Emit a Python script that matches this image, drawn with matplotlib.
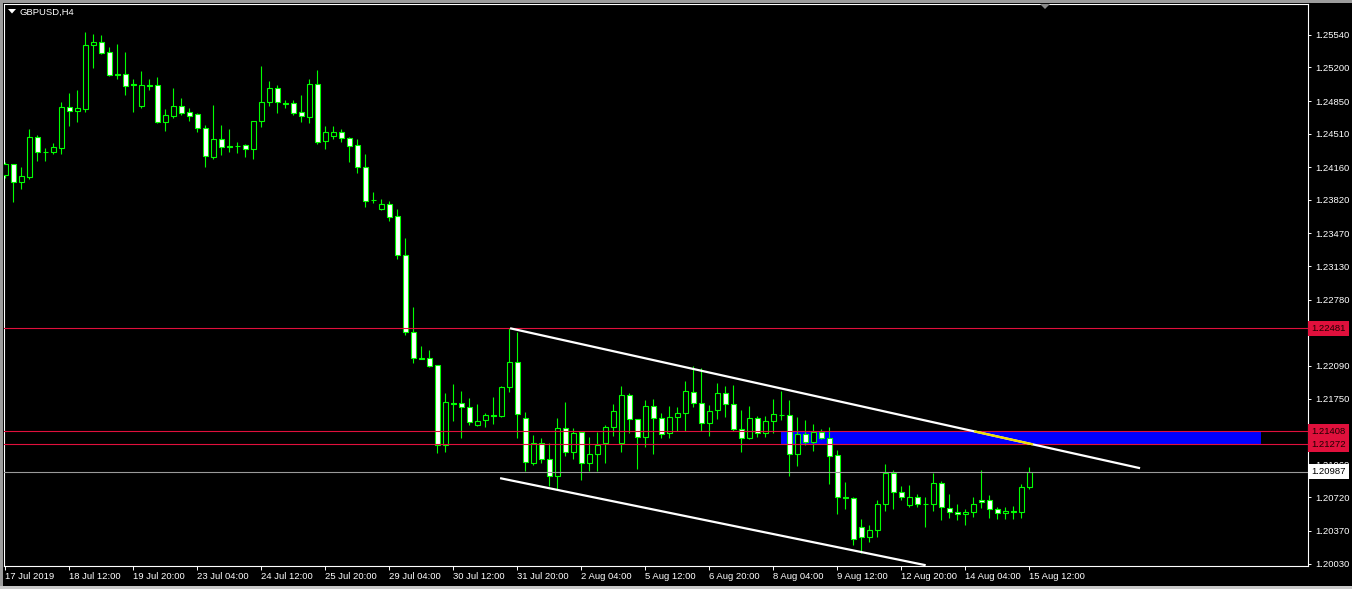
import matplotlib.pyplot as plt
import numpy as np
import pandas as pd
from matplotlib.patches import Rectangle, Polygon

plt.rcParams['font.family'] = ['Liberation Sans', 'DejaVu Sans']

# --- chart data (GBPUSD, H4 bars) ---
symbol = "GBPUSD,H4"
first_bar = "2019-07-17 04:00"
last_bar = "2019-08-15 12:00"

opens = [
    1.24076, 1.24190, 1.24009, 1.24061, 1.24472, 1.24322, 1.24322, 1.24363, 1.24784, 1.24743,
    1.24770, 1.25437, 1.25462, 1.25358, 1.25128, 1.25128, 1.25027, 1.24801, 1.25014, 1.25014,
    1.24634, 1.24697, 1.24795, 1.24732, 1.24711, 1.24565, 1.24269, 1.24451, 1.24378, 1.24386,
    1.24388, 1.24347, 1.24638, 1.24836, 1.24982, 1.24826, 1.24826, 1.24732, 1.24686, 1.25024,
    1.24430, 1.24488, 1.24524, 1.24461, 1.24388, 1.24159, 1.23818, 1.23724, 1.23776, 1.23651,
    1.23245, 1.22439, 1.22168, 1.22168, 1.22095, 1.21264, 1.21699, 1.21699, 1.21657, 1.21470,
    1.21522, 1.21574, 1.21570, 1.21866, 1.22126, 1.21542, 1.21080, 1.21288, 1.21121, 1.20938,
    1.21438, 1.21194, 1.21397, 1.21073, 1.21167, 1.21282, 1.21449, 1.21282, 1.21782, 1.21532,
    1.21344, 1.21668, 1.21542, 1.21386, 1.21553, 1.21595, 1.21814, 1.21699, 1.21490, 1.21626,
    1.21803, 1.21688, 1.21428, 1.21334, 1.21542, 1.21386, 1.21511, 1.21580, 1.21574, 1.21167,
    1.21376, 1.21292, 1.21397, 1.21334, 1.21157, 1.20729, 1.20709, 1.20406, 1.20302, 1.20378,
    1.20646, 1.20969, 1.20771, 1.20636, 1.20729, 1.20652, 1.20656, 1.20865, 1.20604, 1.20563,
    1.20542, 1.20563, 1.20688, 1.20688, 1.20594, 1.20552, 1.20583, 1.20563, 1.20823,
]
highs = [
    1.24214, 1.24195, 1.24159, 1.24558, 1.24492, 1.24357, 1.24409, 1.24840, 1.24933, 1.24965,
    1.25569, 1.25548, 1.25538, 1.25410, 1.25444, 1.25361, 1.25079, 1.25163, 1.25079, 1.25097,
    1.24770, 1.24986, 1.24881, 1.24777, 1.24722, 1.24597, 1.24805, 1.24597, 1.24555, 1.24423,
    1.24402, 1.24640, 1.25215, 1.25059, 1.25017, 1.24860, 1.24860, 1.24913, 1.25079, 1.25173,
    1.24589, 1.24589, 1.24555, 1.24472, 1.24451, 1.24298, 1.23901, 1.23825, 1.23805, 1.23724,
    1.23419, 1.22700, 1.22296, 1.22254, 1.22097, 1.21806, 1.21900, 1.21827, 1.21754, 1.21692,
    1.21601, 1.21765, 1.21882, 1.22482, 1.22445, 1.21605, 1.21368, 1.21334, 1.21282, 1.21542,
    1.21709, 1.21438, 1.21400, 1.21344, 1.21397, 1.21470, 1.21692, 1.21879, 1.21803, 1.21535,
    1.21733, 1.21744, 1.21601, 1.21671, 1.21657, 1.21934, 1.22088, 1.22064, 1.21678, 1.21910,
    1.21879, 1.21890, 1.21626, 1.21668, 1.21563, 1.21563, 1.21744, 1.21827, 1.21733, 1.21553,
    1.21522, 1.21480, 1.21428, 1.21449, 1.21212, 1.20878, 1.20725, 1.20490, 1.20427, 1.20691,
    1.21066, 1.21004, 1.20837, 1.20844, 1.20753, 1.20719, 1.20972, 1.20892, 1.20753, 1.20656,
    1.20600, 1.20729, 1.21004, 1.20740, 1.20615, 1.20615, 1.20628, 1.20855, 1.21032,
]
lows = [
    1.24047, 1.23800, 1.23936, 1.24034, 1.24228, 1.24228, 1.24298, 1.24298, 1.24589, 1.24634,
    1.24735, 1.25194, 1.25340, 1.25111, 1.25079, 1.24913, 1.24735, 1.24774, 1.24965, 1.24624,
    1.24540, 1.24673, 1.24707, 1.24645, 1.24530, 1.24165, 1.24242, 1.24284, 1.24322, 1.24311,
    1.24269, 1.24249, 1.24582, 1.24798, 1.24728, 1.24780, 1.24701, 1.24631, 1.24621, 1.24402,
    1.24353, 1.24457, 1.24426, 1.24217, 1.24096, 1.23748, 1.23790, 1.23714, 1.23602, 1.23200,
    1.22411, 1.22116, 1.22158, 1.22074, 1.21184, 1.21194, 1.21517, 1.21340, 1.21473, 1.21468,
    1.21455, 1.21483, 1.21559, 1.21820, 1.21334, 1.20993, 1.21056, 1.21080, 1.20837, 1.20806,
    1.21153, 1.21115, 1.20896, 1.20990, 1.20990, 1.21080, 1.21361, 1.21194, 1.21392, 1.21011,
    1.21246, 1.21173, 1.21340, 1.21340, 1.21413, 1.21413, 1.21657, 1.21413, 1.21361, 1.21538,
    1.21553, 1.21410, 1.21194, 1.21324, 1.21351, 1.21351, 1.21386, 1.21525, 1.20941, 1.21045,
    1.21261, 1.21205, 1.21324, 1.20858, 1.20545, 1.20594, 1.20222, 1.20142, 1.20253, 1.20312,
    1.20579, 1.20600, 1.20688, 1.20615, 1.20615, 1.20413, 1.20579, 1.20482, 1.20500, 1.20485,
    1.20430, 1.20511, 1.20611, 1.20506, 1.20496, 1.20496, 1.20496, 1.20506, 1.20802,
]
closes = [
    1.24190, 1.24011, 1.24065, 1.24472, 1.24315, 1.24318, 1.24371, 1.24784, 1.24743, 1.24774,
    1.25431, 1.25462, 1.25354, 1.25121, 1.25125, 1.25010, 1.25012, 1.25014, 1.25010, 1.24631,
    1.24701, 1.24795, 1.24728, 1.24697, 1.24565, 1.24274, 1.24451, 1.24374, 1.24375, 1.24381,
    1.24347, 1.24638, 1.24836, 1.24982, 1.24836, 1.24823, 1.24728, 1.24691, 1.25024, 1.24426,
    1.24524, 1.24524, 1.24461, 1.24384, 1.24159, 1.23811, 1.23815, 1.23776, 1.23644, 1.23245,
    1.22439, 1.22168, 1.22165, 1.22093, 1.21264, 1.21709, 1.21696, 1.21657, 1.21501, 1.21511,
    1.21574, 1.21571, 1.21866, 1.22126, 1.21584, 1.21084, 1.21288, 1.21115, 1.20938, 1.21438,
    1.21188, 1.21386, 1.21073, 1.21167, 1.21264, 1.21449, 1.21615, 1.21782, 1.21532, 1.21344,
    1.21668, 1.21542, 1.21376, 1.21553, 1.21595, 1.21827, 1.21699, 1.21490, 1.21615, 1.21803,
    1.21688, 1.21428, 1.21334, 1.21542, 1.21386, 1.21511, 1.21584, 1.21577, 1.21167, 1.21376,
    1.21292, 1.21397, 1.21334, 1.21155, 1.20725, 1.20709, 1.20281, 1.20302, 1.20378, 1.20646,
    1.20969, 1.20771, 1.20729, 1.20729, 1.20656, 1.20650, 1.20865, 1.20615, 1.20563, 1.20542,
    1.20563, 1.20656, 1.20667, 1.20594, 1.20552, 1.20583, 1.20563, 1.20823, 1.20987,
]

# horizontal levels, bid, supply zone and trend lines (bar index, price)
red_levels = [1.22481, 1.21408, 1.21272]
bid_price = 1.20987
zone_bars = (96.95, 157.0)
zone_prices = (1.21272, 1.21408)
upper_trend = ([63.1, 141.85], [1.22482, 1.21024])
lower_trend = ([61.85, 115.05], [1.20920, 1.20013])

price_ticks = [1.20030, 1.20370, 1.20720, 1.21060, 1.21410, 1.21750, 1.22090, 1.22440,
               1.22780, 1.23130, 1.23470, 1.23820, 1.24160, 1.24510, 1.24850, 1.25200, 1.25540]

# --- bar times (H4, no weekend bars) ---
times = pd.date_range(first_bar, last_bar, freq="4h")
times = times[times.dayofweek < 5]

o = np.array(opens)
h = np.array(highs)
l = np.array(lows)
c = np.array(closes)
x = np.arange(len(o))

W, H = 1352, 589
fig = plt.figure(figsize=(W / 100, H / 100), dpi=100, facecolor='black')
ax = fig.add_axes([4 / W, 1 - 565.5 / H, 1304 / W, 561.5 / H])
ax.set_facecolor('black')

GREEN = '#00ff00'
RED = '#e0103c'

# zone rectangle sits behind the candles
ax.add_patch(Rectangle((zone_bars[0], zone_prices[0]), zone_bars[1] - zone_bars[0],
                       zone_prices[1] - zone_prices[0], facecolor='#0000ff',
                       edgecolor='none', zorder=1))

# candles
ax.vlines(x, l, h, color=GREEN, linewidth=0.8, zorder=3)
bull = c >= o
ax.bar(x, np.abs(c - o), bottom=np.minimum(o, c), width=0.56,
       color=np.where(bull, 'black', 'white'), edgecolor=GREEN, linewidth=0.8, zorder=4)

# level lines
for lv in red_levels:
    ax.axhline(lv, color=RED, linewidth=0.8, zorder=5)
ax.axhline(bid_price, color='#9a9a9a', linewidth=0.8, zorder=5)

# trend lines
ax.plot(upper_trend[0], upper_trend[1], color='white', linewidth=1.6,
        solid_capstyle='butt', zorder=6)
ax.plot(lower_trend[0], lower_trend[1], color='white', linewidth=1.6,
        solid_capstyle='butt', zorder=6)

# the part of the upper trend line crossing the zone shows in yellow
slope = (upper_trend[1][1] - upper_trend[1][0]) / (upper_trend[0][1] - upper_trend[0][0])
yx = [upper_trend[0][0] + (p - upper_trend[1][0]) / slope for p in zone_prices[::-1]]
ax.plot(yx, zone_prices[::-1], color='#f0e000', linewidth=1.6,
        solid_capstyle='butt', zorder=7)

ax.set_xlim(-0.16, 162.84)
ax.set_ylim(1.20010, 1.25861)

# price axis (the tick hidden under a level tag gets no label)
ax.yaxis.tick_right()
ax.set_yticks(price_ticks)
ax.set_yticklabels(["" if min(abs(p - lv) for lv in red_levels) < 0.0001 else f"{p:.5f}"
                    for p in price_ticks])
ax.tick_params(axis='y', colors='white', length=2.5, width=0.7, pad=2.5, labelsize=6.8)

# time axis: every 8th bar counted back from the last one, first bar shows the date
tick_idx = list(range(len(times) - 1, 0, -8))[::-1]
if tick_idx[0] > 4:
    tick_idx = [0] + tick_idx
labels = []
for i in tick_idx:
    t = times[i]
    if i == 0:
        labels.append(f"{t.day} {t:%b %Y}")
    else:
        labels.append(f"{t.day} {t:%b %H:%M}")
ax.set_xticks(tick_idx)
ax.set_xticklabels(labels)
for lab in ax.get_xticklabels():
    lab.set_horizontalalignment('left')
ax.tick_params(axis='x', colors='white', length=3, width=0.7, pad=1.5, labelsize=6.8)

for sp in ax.spines.values():
    sp.set_color('white')
    sp.set_linewidth(0.8)

# price tags on the right axis
tr = ax.get_yaxis_transform()
for lv in red_levels:
    ax.text(1.0025, lv, f"{lv:.5f}", transform=tr, ha='left', va='center', fontsize=6.8,
            color='#200000', clip_on=False, zorder=20,
            bbox=dict(boxstyle='square,pad=0.32', fc=RED, ec='none'))
ax.text(1.0025, bid_price, f"{bid_price:.5f}", transform=tr, ha='left', va='center',
        fontsize=6.8, color='black', clip_on=False, zorder=20,
        bbox=dict(boxstyle='square,pad=0.32', fc='white', ec='none'))

# window frame strips and header
fig.add_artist(Rectangle((0, 1 - 3 / H), 1, 3 / H, transform=fig.transFigure,
                         facecolor='#9c9c9c', edgecolor='none'))
fig.add_artist(Rectangle((0, 0), 3 / W, 1, transform=fig.transFigure,
                         facecolor='#9c9c9c', edgecolor='none'))
fig.add_artist(Rectangle((0, 0), 1, 3 / H, transform=fig.transFigure,
                         facecolor='#c8c8c8', edgecolor='none'))
fig.add_artist(Polygon([(8 / W, 1 - 9 / H), (16 / W, 1 - 9 / H), (12 / W, 1 - 13.5 / H)],
                       closed=True, transform=fig.transFigure, facecolor='white',
                       edgecolor='none'))
fig.text(20 / W, 1 - 12 / H, symbol, color='white', fontsize=6.8, va='center', ha='left')
# chart shift marker
fig.add_artist(Polygon([(1040 / W, 1 - 4 / H), (1050 / W, 1 - 4 / H), (1045 / W, 1 - 9 / H)],
                       closed=True, transform=fig.transFigure, facecolor='#8a8a8a',
                       edgecolor='none'))

fig.savefig('out.png', dpi=100, facecolor='black')
